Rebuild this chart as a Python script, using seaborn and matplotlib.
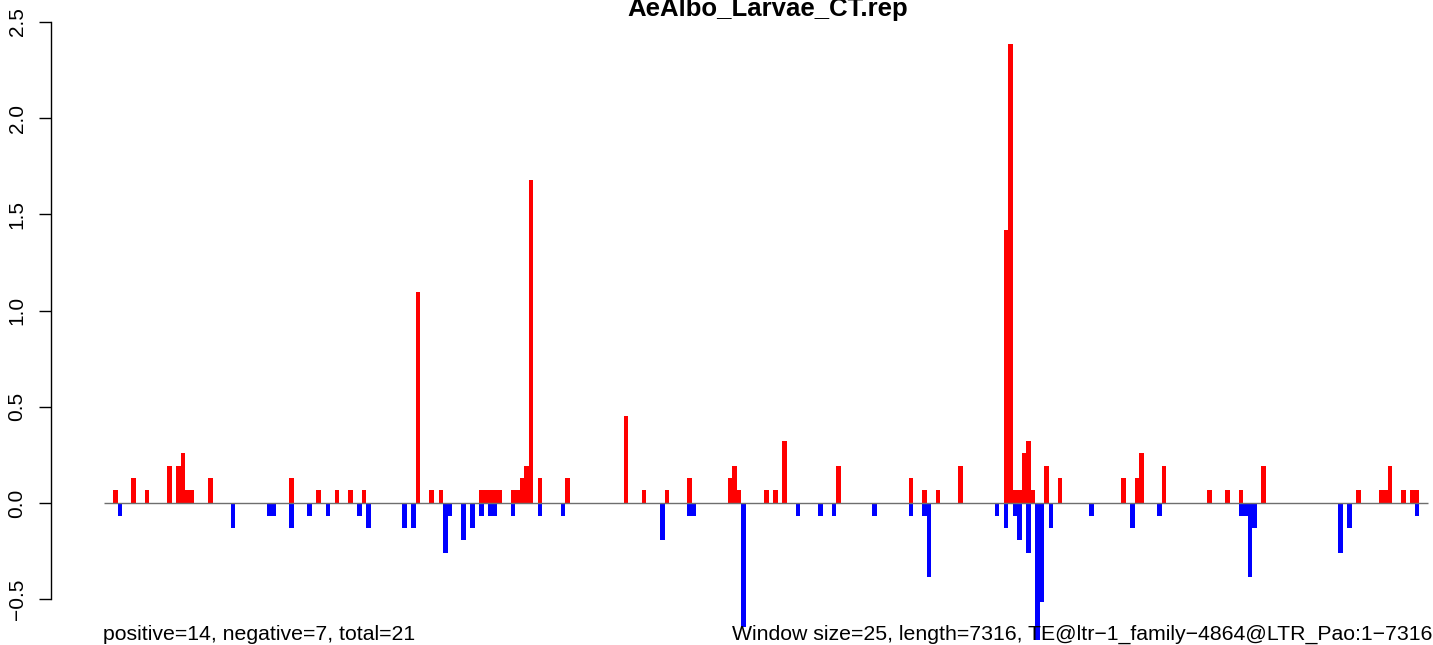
import numpy as np
import pandas as pd
import seaborn as sns
import matplotlib.pyplot as plt
from matplotlib.ticker import FixedLocator, FuncFormatter

# 25 bp windows along the TE (index of window) and the signal
window_size = 25
te_length = 7316

pos_window = [2, 6, 9, 14, 16, 17, 18, 19, 23, 41, 47, 51, 54, 57, 69, 72, 74,
              83, 84, 85, 86, 87, 90, 91, 92, 93, 94, 96, 102, 115, 119, 124,
              129, 138, 139, 140, 146, 148, 150, 162, 178, 181, 184, 189, 199,
              200, 201, 202, 203, 204, 205, 208, 211, 225, 228, 229, 234, 244,
              248, 251, 256, 277, 282, 283, 284, 287, 289, 290]
pos_value = [0.065, 0.129, 0.065, 0.194, 0.194, 0.258, 0.065, 0.065, 0.129, 0.129, 0.065, 0.065, 0.065, 0.065, 1.097, 0.065, 0.065,
             0.065, 0.065, 0.065, 0.065, 0.065, 0.065, 0.065, 0.129, 0.194, 1.677, 0.129, 0.129, 0.452, 0.065, 0.065,
             0.129, 0.129, 0.194, 0.065, 0.065, 0.065, 0.323, 0.194, 0.129, 0.065, 0.065, 0.194, 1.419,
             2.387, 0.065, 0.065, 0.258, 0.323, 0.065, 0.194, 0.129, 0.129, 0.129, 0.258, 0.194, 0.065,
             0.065, 0.065, 0.194, 0.065, 0.065, 0.065, 0.194, 0.065, 0.065, 0.065]

neg_window = [3, 28, 36, 37, 41, 45, 49, 56, 58, 66, 68, 75, 76, 79, 81, 83, 85,
              86, 90, 96, 101, 123, 129, 130, 141, 153, 158, 161, 170, 178, 181,
              182, 197, 199, 201, 202, 204, 206, 207, 209, 218, 227, 233, 251,
              252, 253, 254, 273, 275, 290]
neg_value = [-0.065, -0.129, -0.065, -0.065, -0.129, -0.065, -0.065, -0.065, -0.129, -0.129, -0.129, -0.258, -0.065, -0.194, -0.129, -0.065, -0.065,
             -0.065, -0.065, -0.065, -0.065, -0.194, -0.065, -0.065, -0.645, -0.065, -0.065, -0.065, -0.065, -0.065, -0.065,
             -0.387, -0.065, -0.129, -0.065, -0.194, -0.258, -0.774, -0.516, -0.129, -0.065, -0.129, -0.065, -0.065,
             -0.065, -0.387, -0.129, -0.258, -0.129, -0.065]

yticks = [-0.5, 0.0, 0.5, 1.0, 1.5, 2.0, 2.5]

title = "AeAlbo_Larvae_CT.rep"
left_note = "positive=14, negative=7, total=21"
right_note = "Window size=25, length=7316, TE@ltr\u22121_family\u22124864@LTR_Pao:1\u22127316"

n_windows = int(np.ceil(te_length / window_size))

pos = pd.DataFrame({"window": pos_window, "value": pos_value})
neg = pd.DataFrame({"window": neg_window, "value": neg_value})
# bars span [window, window + 1]
pos["center"] = pos["window"] + 0.5
neg["center"] = neg["window"] + 0.5

sns.set_style("white")
plt.rcParams["font.family"] = ["Liberation Sans", "DejaVu Sans"]
plt.rcParams["text.color"] = "black"
plt.rcParams["ytick.color"] = "black"
plt.rcParams["ytick.labelcolor"] = "black"

fig = plt.figure(figsize=(14.33, 6.45), dpi=100)
ax = fig.add_axes([51 / 1433, 5 / 645, 1382 / 1433, 619 / 645])

sns.barplot(data=pos, x="center", y="value", native_scale=True, orient="x",
            width=1, color="#FF0000", saturation=1, errorbar=None,
            linewidth=0, ax=ax)
sns.barplot(data=neg, x="center", y="value", native_scale=True, orient="x",
            width=1, color="#0000FF", saturation=1, errorbar=None,
            linewidth=0, ax=ax)

ax.hlines(0, 0, n_windows, color="#6E6E6E", linewidth=1.0, zorder=3)

ax.set_xlim(-11.73, 294.0)
ax.set_ylim(-0.712, 2.505)

for s in ["top", "right", "bottom"]:
    ax.spines[s].set_visible(False)
ax.spines["left"].set_bounds(yticks[0], yticks[-1])
ax.spines["left"].set_color("black")
ax.spines["left"].set_linewidth(1.0)

ax.set_xticks([])
ax.yaxis.set_major_locator(FixedLocator(yticks))
ax.yaxis.set_major_formatter(FuncFormatter(lambda v, p: f"{v:.1f}".replace("-", "\u2212")))
ax.tick_params(axis="y", which="major", left=True, length=8.6, width=1.0,
               color="black", labelcolor="black", labelsize=15, pad=9,
               labelrotation=90)
for lab in ax.get_yticklabels():
    lab.set_va("center")
ax.set_xlabel("")
ax.set_ylabel("")
ax.grid(False)

fig.text(768 / 1433, 629 / 645, title, ha="center", va="baseline",
         fontsize=18.5, fontweight="bold", color="black")
fig.text(103 / 1433, 5 / 645, left_note, ha="left", va="baseline",
         fontsize=15.3, color="black")
fig.text(1432 / 1433, 5 / 645, right_note, ha="right", va="baseline",
         fontsize=15.3, color="black")

fig.savefig("out.png", dpi=100)
